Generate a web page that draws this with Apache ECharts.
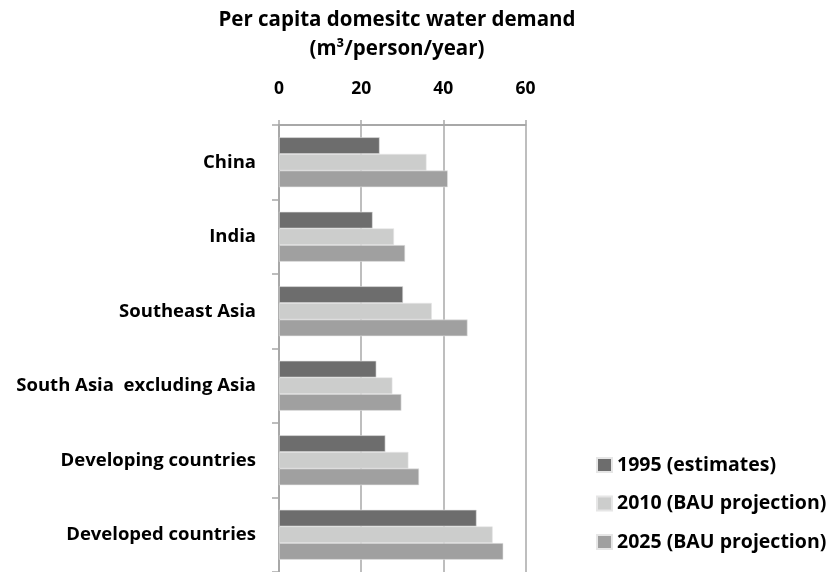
<!DOCTYPE html>
<html>
<head>
<meta charset="utf-8">
<script src="https://cdn.jsdelivr.net/npm/echarts@6/dist/echarts.min.js"></script>
<style>
html,body{margin:0;padding:0;background:#fff;}
#chart{width:834px;height:572px;}
</style>
</head>
<body>
<div id="chart"></div>
<script>
const categories = ['China', 'India', 'Southeast Asia', 'South Asia  excluding Asia', 'Developing countries', 'Developed countries'];
const seriesNames = ['1995 (estimates)', '2010 (BAU projection)', '2025 (BAU projection)'];
const values1995 = [24.5, 22.8, 30.2, 23.7, 25.9, 48.1];
const values2010 = [35.9, 28.0, 37.2, 27.6, 31.5, 52.0];
const values2025 = [41.1, 30.7, 45.9, 29.8, 34.1, 54.6];
const colors = ['#6d6d6d', '#cccdcc', '#a0a0a0'];
const FONT = 'Open Sans';

const chart = echarts.init(document.getElementById('chart'), null, {renderer: 'canvas'});
const seriesData = [values1995, values2010, values2025];
chart.setOption({
  animation: false,
  backgroundColor: '#ffffff',
  title: {
    text: 'Per capita domesitc water demand\n(m³/person/year)',
    left: 392,
    top: 1,
    textAlign: 'center',
    textStyle: {fontFamily: FONT, fontWeight: 'bold', fontSize: 20.5, color: '#000', lineHeight: 29}
  },
  legend: {
    orient: 'vertical',
    left: 596,
    top: 454,
    padding: 0,
    itemWidth: 15,
    itemHeight: 14,
    itemGap: 16.5,
    icon: 'rect',
    data: seriesNames,
    textStyle: {fontFamily: FONT, fontWeight: 'bold', fontSize: 19.5, color: '#000', lineHeight: 22}
  },
  grid: {left: 279, top: 125, width: 246.5, height: 450, containLabel: false},
  xAxis: {
    type: 'value',
    position: 'top',
    min: 0,
    max: 60,
    interval: 20,
    axisLine: {show: true, lineStyle: {color: '#a8a8a8', width: 2}},
    axisTick: {show: true, length: 5, lineStyle: {color: '#a8a8a8', width: 1.5}},
    axisLabel: {fontFamily: FONT, fontWeight: 'bold', fontSize: 17.5, color: '#000', margin: 27},
    splitLine: {show: true, lineStyle: {color: '#a8a8a8', width: 1.5}}
  },
  yAxis: {
    type: 'category',
    inverse: true,
    data: categories,
    axisLine: {show: true, lineStyle: {color: '#a8a8a8', width: 2}},
    axisTick: {show: true, length: 7, lineStyle: {color: '#a8a8a8', width: 1.5}},
    axisLabel: {fontFamily: FONT, fontWeight: 'bold', fontSize: 18.5, color: '#000', margin: 23}
  },
  series: seriesNames.map((n, i) => ({
    name: n,
    type: 'bar',
    data: seriesData[i],
    barGap: '0%',
    barCategoryGap: '33%',
    itemStyle: {color: colors[i], borderColor: '#e6e6e6', borderWidth: 0.6}
  }))
});
</script>
</body>
</html>
